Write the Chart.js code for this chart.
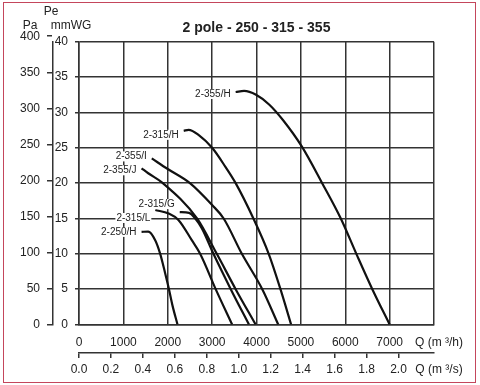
<!DOCTYPE html>
<html>
<head>
<meta charset="utf-8">
<script src="https://cdn.jsdelivr.net/npm/chart.js@4/dist/chart.umd.min.js"></script>
<style>
  html, body { margin: 0; padding: 0; background: #fff; }
  #wrap { position: relative; width: 480px; height: 385px; }
  #frame { position: absolute; left: 3px; top: 2px; width: 471px; height: 379px; border: 1px solid #c4465c; pointer-events: none; }
</style>
</head>
<body>
<div id="wrap">
  <canvas id="fanChart" width="480" height="385"></canvas>
  <div id="frame"></div>
</div>
<script>
// fan curves: flow Q in m3/h, pressure Pe in mmWG
const curveLabels = ['2-355/H', '2-315/H', '2-355/I', '2-355/J', '2-315/G', '2-315/L', '2-250/H'];

const flow355H = [3530, 3720, 3990, 4290, 4600, 5020, 5480, 5900, 6250, 6610, 7000];
const pres355H = [32.9, 33.05, 32.5, 31.1, 28.9, 25.2, 20.0, 15.0, 10.0, 5.0, 0];

const flow315H = [2360, 2470, 2700, 3000, 3300, 3530, 3930, 4275, 4540, 4780];
const pres315H = [27.4, 27.55, 26.8, 25.0, 22.3, 20.0, 15.0, 10.0, 5.0, 0];

const flow355I = [1640, 2000, 2500, 3000, 3260, 3670, 4130, 4490];
const pres355I = [23.5, 22.0, 20.0, 16.9, 15.0, 10.0, 5.0, 0];

const flow355J = [1410, 1560, 1890, 2660, 3105, 3530, 3980];
const pres355J = [22.1, 21.4, 20.0, 15.0, 10.0, 5.0, 0];

const flow315G = [2270, 2480, 2620, 2770, 3030, 3420, 3830];
const pres315G = [15.9, 15.8, 15.0, 13.6, 10.0, 5.0, 0];

const flow315L = [1720, 2020, 2240, 2545, 2730, 3080, 3450];
const pres315L = [16.2, 15.7, 14.8, 11.9, 10.0, 5.0, 0];

const flow250H = [1410, 1560, 1720, 1830, 1940, 2020, 2110, 2220];
const pres250H = [13.1, 13.15, 11.9, 10.0, 7.3, 5.2, 2.6, 0];

const paTickValues = [0, 50, 100, 150, 200, 250, 300, 350, 400];
const qsTickValues = [0, 0.2, 0.4, 0.6, 0.8, 1.0, 1.2, 1.4, 1.6, 1.8, 2.0];

const PA_PER_MMWG = 9.80665;
const curves = [
    [flow355H, pres355H], [flow315H, pres315H], [flow355I, pres355I], [flow355J, pres355J],
    [flow315G, pres315G], [flow315L, pres315L], [flow250H, pres250H]
];

// vertical nudge of each curve label against the curve start
const labelShift = [2, 4, -2, 2, -8, 8, 0];

const gridCol = '#333';
Chart.defaults.font.family = "'Liberation Sans', Arial, sans-serif";
Chart.defaults.color = '#222';

const curveLabelPlugin = {
    id: 'curveLabels',
    afterDatasetsDraw(chart) {
        const ctx = chart.ctx;
        ctx.save();
        ctx.font = "10px 'Liberation Sans', Arial, sans-serif";
        ctx.textAlign = 'right';
        ctx.textBaseline = 'middle';
        chart.data.datasets.forEach((ds, i) => {
            const pt = chart.getDatasetMeta(i).data[0];
            const x = pt.x - 5;
            const y = pt.y + labelShift[i];
            const w = ctx.measureText(ds.label).width;
            ctx.fillStyle = '#fff';
            ctx.fillRect(x - w - 1, y - 5, w + 2, 10);
            ctx.fillStyle = '#222';
            ctx.fillText(ds.label, x, y);
        });
        ctx.restore();
    }
};

const axisCaptionPlugin = {
    id: 'axisCaptions',
    afterDraw(chart) {
        const ctx = chart.ctx;
        const top = chart.chartArea.top;
        const sPa = chart.scales.yPa;
        const sMm = chart.scales.y;
        ctx.save();
        ctx.font = "12px 'Liberation Sans Narrow', 'Liberation Sans', Arial, sans-serif";
        ctx.fillStyle = '#222';
        ctx.textAlign = 'center';
        ctx.textBaseline = 'middle';
        ctx.fillText('Pa', sPa.left + 10, top - 16);
        ctx.fillText('Pe', sPa.right - 2, top - 30);
        ctx.fillText('mmWG', sMm.left + 18, top - 16);
        ctx.restore();
    }
};

const ctx = document.getElementById('fanChart').getContext('2d');
const fanChart = new Chart(ctx, {
    type: 'line',
    data: {
        datasets: curves.map((c, i) => ({
            label: curveLabels[i],
            data: c[0].map((q, j) => ({ x: q, y: c[1][j] })),
            borderColor: '#111',
            borderWidth: 2.2,
            pointRadius: 0,
            fill: false,
            cubicInterpolationMode: 'monotone'
        }))
    },
    options: {
        responsive: false,
        animation: false,
        layout: { padding: { left: 20, right: 46, top: 0, bottom: 9 } },
        plugins: {
            legend: { display: false },
            tooltip: { enabled: false },
            title: {
                display: true,
                text: '2 pole - 250 - 315 - 355',
                fullSize: false,
                color: '#222',
                font: { size: 14, weight: 'bold' },
                padding: { top: 20, bottom: 5 }
            }
        },
        scales: {
            x: {
                type: 'linear',
                position: 'bottom',
                weight: 0,
                min: 0,
                max: 8000,
                ticks: {
                    stepSize: 1000,
                    autoSkip: false,
                    maxRotation: 0,
                    padding: 11,
                    font: { size: 12 },
                    callback: v => v === 8000 ? '   Q (m ³/h)' : String(v)
                },
                grid: { color: gridCol, lineWidth: 1.5, drawTicks: false },
                border: { color: gridCol, width: 1.5 },
                afterFit: s => { s.height = 28.5; }
            },
            x2: {
                type: 'linear',
                position: 'bottom',
                weight: 1,
                min: 0,
                max: 8000 / 3600,
                afterBuildTicks: s => {
                    s.ticks = qsTickValues.map(v => ({ value: v })).concat([{ value: s.max }]);
                },
                ticks: {
                    autoSkip: false,
                    maxRotation: 0,
                    padding: 4,
                    font: { size: 12 },
                    callback: (v, i, t) => i === t.length - 1 ? '   Q (m ³/s)' : v.toFixed(1)
                },
                grid: {
                    drawOnChartArea: false,
                    tickLength: 5,
                    lineWidth: 1.5,
                    color: gridCol,
                    tickColor: c => c.index === qsTickValues.length ? 'rgba(0,0,0,0)' : gridCol
                },
                border: { color: gridCol, width: 1.5 },
                afterFit: s => { s.height = 23; }
            },
            y: {
                type: 'linear',
                position: 'left',
                weight: 0,
                min: 0,
                max: 40,
                ticks: { stepSize: 5, padding: 7, font: { size: 12 } },
                grid: { color: gridCol, lineWidth: 1.5, tickLength: 4 },
                border: { color: gridCol, width: 1.5 },
                afterFit: s => { s.width = 26; }
            },
            yPa: {
                type: 'linear',
                position: 'left',
                weight: 1,
                min: 0,
                max: 40 * PA_PER_MMWG,
                afterBuildTicks: s => {
                    s.ticks = paTickValues.map(v => ({ value: v }));
                },
                ticks: { padding: 7, font: { size: 12 }, callback: v => String(v) },
                grid: { drawOnChartArea: false, color: gridCol, lineWidth: 1.5, tickLength: 6 },
                border: { color: gridCol, width: 1.5 },
                afterFit: s => { s.width = 33; }
            }
        }
    },
    plugins: [curveLabelPlugin, axisCaptionPlugin]
});
</script>
</body>
</html>
